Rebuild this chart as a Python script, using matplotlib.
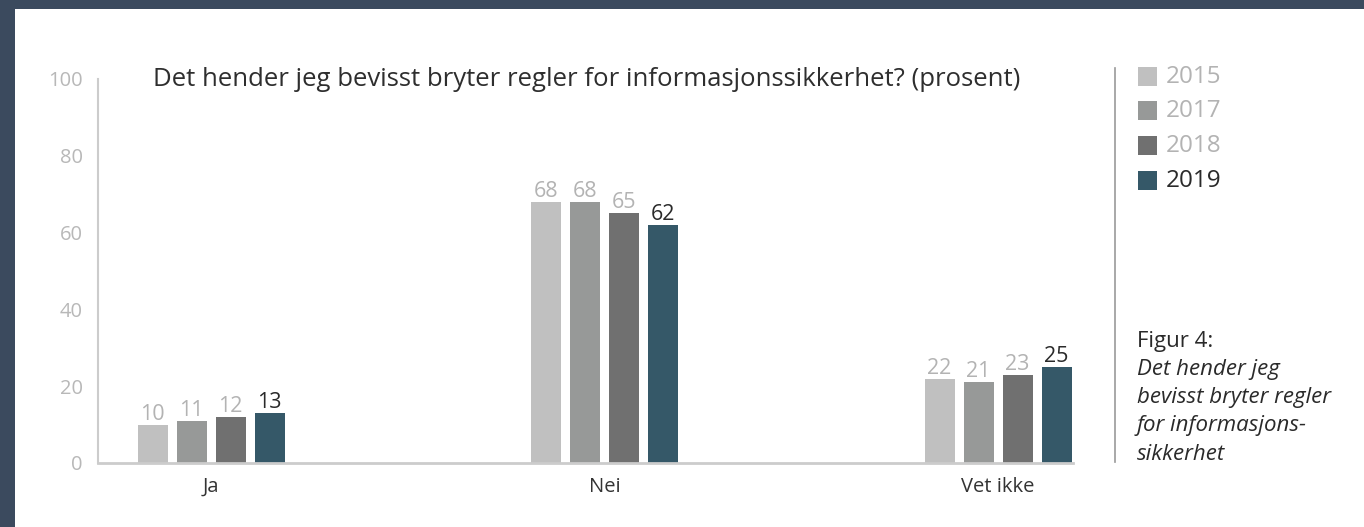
import numpy as np
import matplotlib.pyplot as plt
from matplotlib.patches import Rectangle

# Data
categories = ["Ja", "Nei", "Vet ikke"]
years = ["2015", "2017", "2018", "2019"]
verdier = {
    "2015": [10, 68, 22],
    "2017": [11, 68, 21],
    "2018": [12, 65, 23],
    "2019": [13, 62, 25],
}
farger = ["#c0c0c0", "#979998", "#707070", "#355868"]
tekstfarger = ["#b3b3b3", "#b3b3b3", "#b3b3b3", "#2a2a2a"]

plt.rcParams["font.family"] = ["Open Sans", "DejaVu Sans"]

W, H = 1364, 527
fig = plt.figure(figsize=(W / 100, H / 100), dpi=100)
fig.patch.set_facecolor("white")

# mørk ramme oppe og til venstre
ramme = "#3b4a5e"
fig.patches.append(Rectangle((0, 1 - 9 / H), 1, 9 / H, transform=fig.transFigure,
                             facecolor=ramme, edgecolor="none", zorder=0))
fig.patches.append(Rectangle((0, 0), 15 / W, 1, transform=fig.transFigure,
                             facecolor=ramme, edgecolor="none", zorder=0))

# aksene i piksler
x0, x1 = 98, 1073
y0, y1 = 463, 79
ax = fig.add_axes([x0 / W, (H - y0) / H, (x1 - x0) / W, (y0 - y1) / H])

enhet = 393.5
bredde = 30 / enhet
steg = 39 / enhet
x = np.arange(len(categories))

for i, aar in enumerate(years):
    pos = x + (i - 1.5) * steg
    bars = ax.bar(pos, verdier[aar], width=bredde, color=farger[i], zorder=2)
    for b, v in zip(bars, verdier[aar]):
        ax.annotate(str(v), (b.get_x() + b.get_width() / 2, v),
                    xytext=(0, 0), textcoords="offset points",
                    ha="center", va="bottom", fontsize=15.5,
                    color=tekstfarger[i])

ax.set_xlim(-(211 - x0) / enhet, 2 + (x1 - 998) / enhet)
ax.set_ylim(0, 100)
ax.set_yticks([0, 20, 40, 60, 80, 100])
ax.set_xticks(x)
ax.set_xticklabels(categories, fontsize=14.5, color="#333333")
ax.tick_params(axis="y", length=0, pad=11, labelsize=14.5, labelcolor="#b8b8b8")
ax.tick_params(axis="x", length=0, pad=10)
for s in ["top", "right"]:
    ax.spines[s].set_visible(False)
ax.spines["left"].set_color("#cccccc")
ax.spines["bottom"].set_color("#cccccc")
ax.spines["left"].set_linewidth(1.5)
ax.spines["bottom"].set_linewidth(2)

# tittel
fig.text(153 / W, 1 - 80 / H,
         "Det hender jeg bevisst bryter regler for informasjonssikkerhet? (prosent)",
         fontsize=18.5, color="#2e2e2e", va="center", ha="left")

# skillelinje
fig.add_artist(plt.Line2D([1115 / W, 1115 / W], [1 - 68 / H, 1 - 462 / H],
                          transform=fig.transFigure, color="#999999", lw=1.2))

# forklaring
leg_y = [77, 111, 146, 181]
for i, aar in enumerate(years):
    yy = leg_y[i]
    fig.patches.append(Rectangle((1138 / W, 1 - (yy + 9) / H), 19 / W, 19 / H,
                                 transform=fig.transFigure, facecolor=farger[i],
                                 edgecolor="none"))
    fig.text(1166 / W, 1 - yy / H, aar, fontsize=17.5, color=tekstfarger[i],
             va="center", ha="left")

# figurtekst
fig.text(1137 / W, 1 - 342 / H, "Figur 4:", fontsize=16, color="#2a2a2a",
         va="center", ha="left")
linjer = ["Det hender jeg", "bevisst bryter regler", "for informasjons-", "sikkerhet"]
for k, l in enumerate(linjer):
    fig.text(1137 / W, 1 - (370 + 28 * k) / H, l, fontsize=16, style="italic",
             color="#2a2a2a", va="center", ha="left")

fig.savefig("out.png", dpi=100, facecolor="white")
